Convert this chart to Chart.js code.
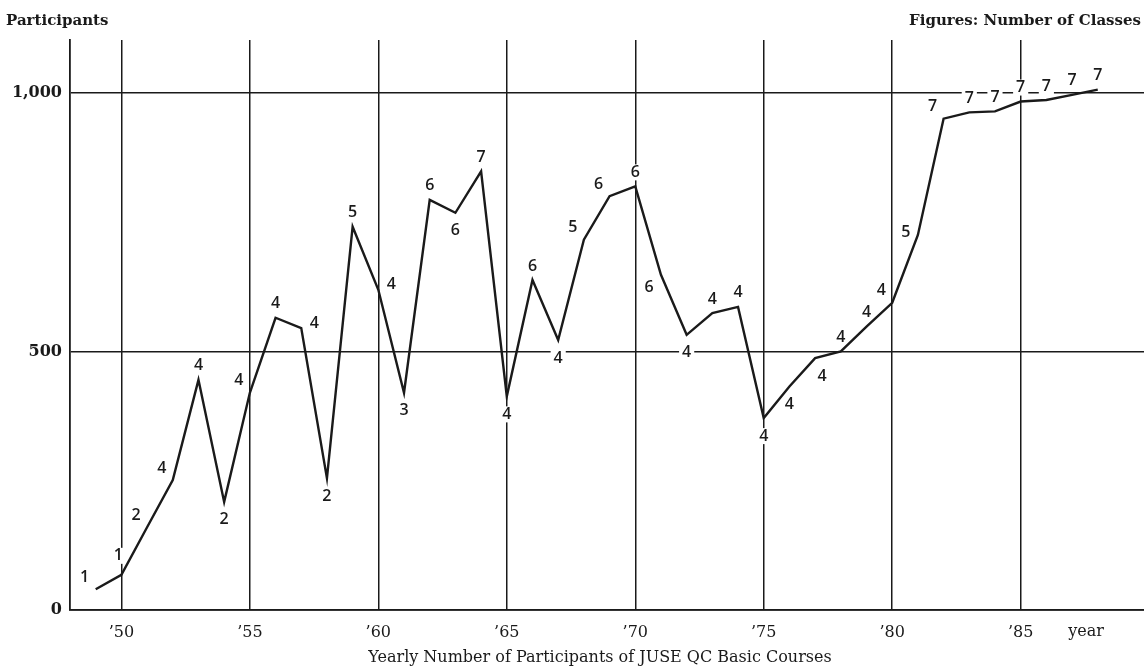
<!DOCTYPE html>
<html>
<head>
<meta charset="utf-8">
<script src="https://cdn.jsdelivr.net/npm/chart.js@4"></script>
<style>
  html, body { margin: 0; padding: 0; background: #fff; }
  #wrap { width: 1144px; height: 670px; position: relative; }
</style>
</head>
<body>
<div id="wrap"><canvas id="juse_chart"></canvas></div>
<script>
// DATA
const years = [1949, 1950, 1951, 1952, 1953, 1954, 1955, 1956, 1957, 1958,
	1959, 1960, 1961, 1962, 1963, 1964, 1965, 1966, 1967, 1968,
	1969, 1970, 1971, 1972, 1973, 1974, 1975, 1976, 1977, 1978,
	1979, 1980, 1981, 1982, 1983, 1984, 1985, 1986, 1987, 1988];
const participants = [40, 68, 160, 251, 445, 209, 420, 565, 545, 255,
	741, 619, 420, 793, 768, 848, 413, 638, 522, 716,
	800, 819, 648, 532, 574, 586, 371, 432, 487, 500,
	548, 594, 725, 950, 962, 964, 983, 986, 996, 1006];
const classes = [1, 1, 2, 4, 4, 2, 4, 4, 4, 2,
	5, 4, 3, 6, 6, 7, 4, 6, 4, 5,
	6, 6, 6, 4, 4, 4, 4, 4, 4, 4,
	4, 4, 5, 7, 7, 7, 7, 7, 7, 7];
const xTicks = [1950, 1955, 1960, 1965, 1970, 1975, 1980, 1985];
const yTicks = [0, 500, 1000];

// where each class figure sits around its point
const labelSide = ['nw', 'nn', 'nw', 'nw', 'n', 's', 'nw', 'n', 'e', 's',
	'n', 'e', 's', 'n', 's', 'n', 's', 'n', 's', 'nw',
	'nw', 'n', 'sw', 's', 'n', 'n', 's', 's', 'se', 'n',
	'n', 'nw', 'w', 'nw', 'n', 'n', 'n', 'n', 'n', 'n'];
const sideOffset = {
	n: [0, -14], nn: [-3, -19], s: [0, 18], nw: [-11, -12], w: [-12, -3],
	e: [13, -5], sw: [-12, 13], se: [7, 18]
};

const INK = '#1a1a1a';
const SERIF = '"DejaVu Serif", "Liberation Serif", serif';

// CLASS FIGURES + TEXTS
const figuresPlugin = {
	id: 'figures',
	beforeDatasetsDraw(chart) {
		const ctx = chart.ctx;
		const xs = chart.scales.x, ys = chart.scales.y;
		ctx.save();
		ctx.font = '600 16px "Open Sans", "DejaVu Sans", sans-serif';
		ctx.textAlign = 'center';
		ctx.textBaseline = 'middle';
		years.forEach((yr, i) => {
			const off = sideOffset[labelSide[i]];
			const px = xs.getPixelForValue(yr) + off[0];
			const py = ys.getPixelForValue(participants[i]) + off[1];
			const txt = String(classes[i]);
			const w = ctx.measureText(txt).width;
			ctx.fillStyle = '#fff';
			ctx.fillRect(px - w / 2 - 3, py - 8, w + 6, 16);
			ctx.fillStyle = INK;
			ctx.fillText(txt, px, py);
		});
		ctx.restore();
	},
	afterDraw(chart) {
		const ctx = chart.ctx;
		const area = chart.chartArea;
		ctx.save();
		ctx.fillStyle = INK;
		ctx.font = 'bold 15px ' + SERIF;
		ctx.textBaseline = 'middle';
		ctx.textAlign = 'left';
		ctx.fillText('Participants', 6, 21);
		ctx.textAlign = 'right';
		ctx.fillText('Figures: Number of Classes', 1141, 21);
		ctx.font = '16px ' + SERIF;
		ctx.textAlign = 'center';
		ctx.fillText('year', 1086, area.bottom + 22);
		ctx.fillText('Yearly Number of Participants of JUSE QC Basic Courses', 600, 658);
		ctx.restore();
	}
};

const ctx = document.getElementById('juse_chart').getContext('2d');
const my_chart = new Chart(ctx, {
	type: 'line',
	data: {
		datasets: [{
			data: years.map((yr, i) => ({ x: yr, y: participants[i] })),
			borderColor: INK,
			borderWidth: 2.4,
			pointRadius: 0,
			fill: false,
			tension: 0
		}]
	},
	options: {
		responsive: true,
		maintainAspectRatio: false,
		animation: false,
		layout: { padding: { top: 40, right: 0, left: 0, bottom: 0 } },
		plugins: {
			legend: { display: false },
			tooltip: { enabled: false }
		},
		scales: {
			x: {
				type: 'linear',
				min: 1948,
				max: 1989.8,
				afterBuildTicks: scale => { scale.ticks = xTicks.map(v => ({ value: v })); },
				afterFit: scale => { scale.height = 60; },
				grid: { color: INK, lineWidth: 1.5, drawTicks: false },
				border: { display: true, color: INK, width: 1.8 },
				ticks: {
					color: INK,
					padding: 13,
					maxRotation: 0,
					font: { family: SERIF, size: 16 },
					callback: v => '\u2019' + String(v).slice(2)
				}
			},
			y: {
				min: 0,
				max: 1102,
				afterBuildTicks: scale => { scale.ticks = yTicks.map(v => ({ value: v })); },
				afterFit: scale => { scale.width = 70; },
				grid: { color: INK, lineWidth: 1.5, drawTicks: false },
				border: { display: true, color: INK, width: 1.8 },
				ticks: {
					color: INK,
					padding: 8,
					font: { family: SERIF, size: 16, weight: 'bold' },
					callback: v => v.toLocaleString('en-US')
				}
			}
		}
	},
	plugins: [figuresPlugin]
});
</script>
</body>
</html>
